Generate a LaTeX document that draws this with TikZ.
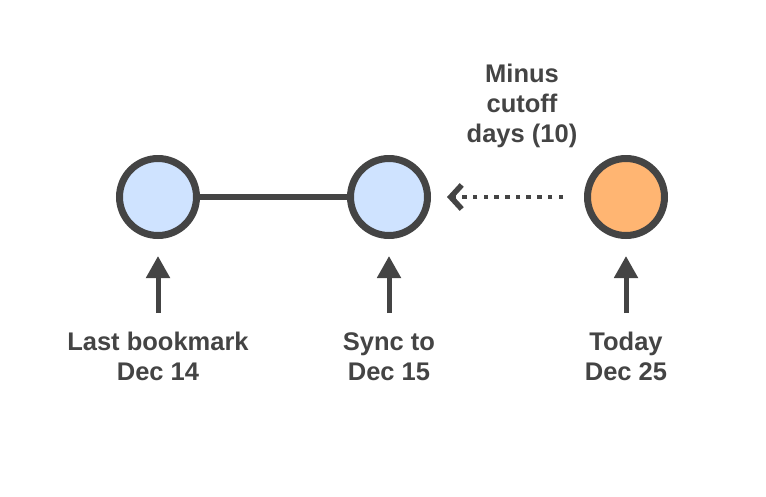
\documentclass[tikz,border=0pt]{standalone}
\usepackage{fontspec}
\setmainfont{Liberation Sans}
\usetikzlibrary{arrows.meta}
\usetikzlibrary{positioning}

\definecolor{ink}{HTML}{444444}
\definecolor{dayblue}{HTML}{CFE3FF}
\definecolor{dayorange}{HTML}{FFB572}

\tikzset{
    day/.style={circle, draw=ink, line width=7pt, minimum size=77pt, inner sep=0pt},
    lbl/.style={text=ink, font=\fontsize{25.5}{30}\selectfont\bfseries, align=center, inner sep=0pt},
    uparrow/.style={draw=ink, line width=5pt, -{Triangle[length=22pt,width=23pt]}},
}

\begin{document}
\begin{tikzpicture}[x=1pt, y=1pt]
    \useasboundingbox (0,0) rectangle (766,-496);

    \node[day, fill=dayblue] (last) at (158,-197) {};
    \node[day, fill=dayblue] (sync) at (389,-197) {};
    \node[day, fill=dayorange] (today) at (626,-197) {};

    \node[lbl, anchor=north] (lastlbl) at (158,-332) {Last bookmark\\Dec 14};
    \node[lbl, anchor=north] (synclbl) at (389,-332) {Sync to\\Dec 15};
    \node[lbl, anchor=north] (todaylbl) at (626,-332) {Today\\Dec 25};
    \node[lbl, anchor=north] (cutoff) at (522,-64) {Minus\\cutoff\\days (10)};

    \draw[ink, line width=4.5pt, dash pattern=on 4.5pt off 6.2pt,
        -{Straight Barb[length=11pt,width=24pt,line width=5.5pt]}, shorten <=21pt, shorten >=16pt] (today) -- (sync);
    \draw[ink, line width=6pt] (last) -- (sync);

    \draw[uparrow, shorten <=19pt, shorten >=17pt] (lastlbl) -- (last);
    \draw[uparrow, shorten <=19pt, shorten >=17pt] (synclbl) -- (sync);
    \draw[uparrow, shorten <=19pt, shorten >=17pt] (todaylbl) -- (today);
\end{tikzpicture}
\end{document}
